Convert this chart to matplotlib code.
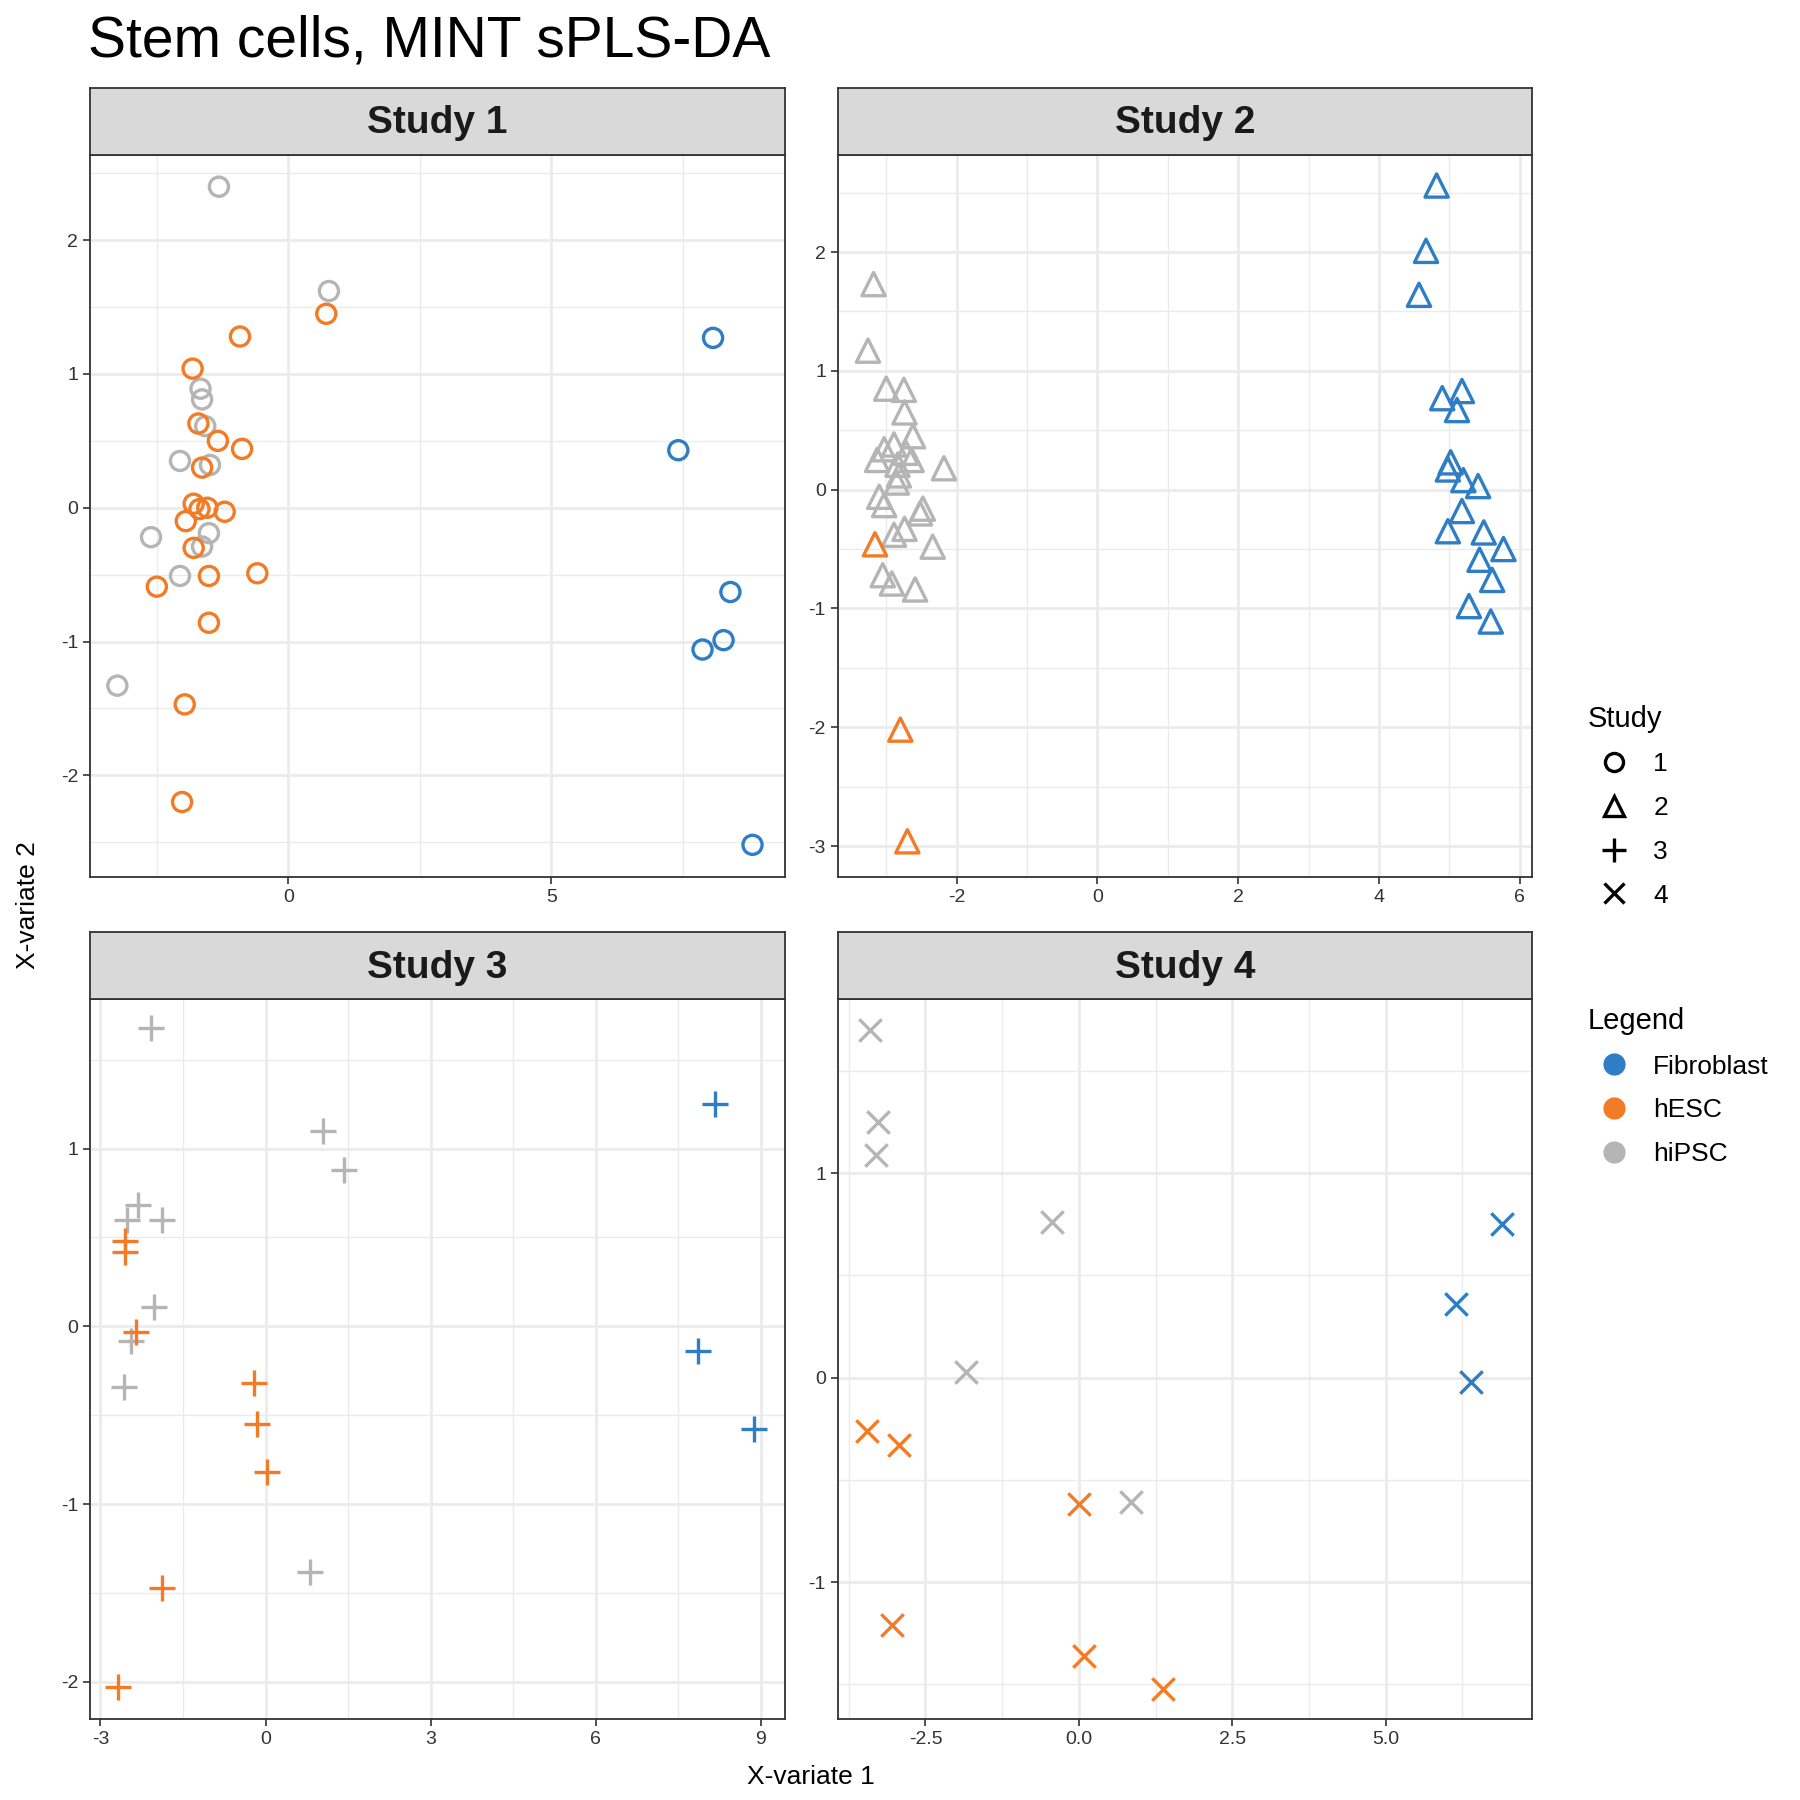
import numpy as np
import matplotlib
matplotlib.use("Agg")
import matplotlib.pyplot as plt
from matplotlib.lines import Line2D
from matplotlib.ticker import MultipleLocator

plt.rcParams['font.family'] = ['Liberation Sans', 'DejaVu Sans']
plt.rcParams['axes.unicode_minus'] = False

BLUE, ORANGE, GREY = '#2F7EC5', '#F47B25', '#B5B5B5'

# Study 1 (circles)
s1_grey_x = [-1.32, 0.77, -1.67, -1.64, -1.58, -2.06, -1.49, -2.61, -1.51, -1.64, -2.06, -3.25]
s1_grey_y = [2.40, 1.62, 0.89, 0.81, 0.61, 0.35, 0.32, -0.22, -0.19, -0.29, -0.51, -1.33]
s1_orange_x = [0.72, -0.92, -1.82, -1.71, -1.34, -0.88, -1.64, -1.80, -1.69, -1.54, -1.21, -1.95,
               -1.80, -1.51, -0.59, -2.50, -1.51, -1.97, -2.02]
s1_orange_y = [1.45, 1.28, 1.04, 0.63, 0.50, 0.44, 0.30, 0.03, -0.01, 0.00, -0.03, -0.10,
               -0.30, -0.51, -0.49, -0.59, -0.86, -1.47, -2.20]
s1_blue_x = [8.07, 7.41, 8.40, 8.27, 7.87, 8.82]
s1_blue_y = [1.27, 0.43, -0.63, -0.99, -1.06, -2.52]

# Study 2 (triangles)
s2_blue_x = [4.82, 4.67, 4.57, 5.18, 4.90, 5.11, 5.02, 4.98, 5.20, 5.41, 5.18, 4.98, 5.49, 5.77,
             5.43, 5.61, 5.28, 5.59]
s2_blue_y = [2.56, 2.01, 1.64, 0.83, 0.77, 0.67, 0.23, 0.17, 0.08, 0.03, -0.18, -0.35, -0.36,
             -0.50, -0.59, -0.76, -0.98, -1.11]
s2_grey_x = [-3.18, -3.26, -3.00, -2.75, -2.74, -2.62, -3.03, -2.89, -2.72, -3.13, -2.64, -2.84,
             -2.18, -2.82, -2.85, -3.10, -3.03, -2.48, -2.52, -2.74, -2.89, -2.34, -3.05, -2.92, -2.59]
s2_grey_y = [1.73, 1.17, 0.85, 0.84, 0.65, 0.45, 0.34, 0.38, 0.31, 0.25, 0.25, 0.21,
             0.18, 0.12, 0.06, -0.06, -0.13, -0.16, -0.20, -0.33, -0.38, -0.48, -0.72, -0.79, -0.84]
s2_orange_x = [-3.16, -2.80, -2.70]
s2_orange_y = [-0.46, -2.02, -2.96]

# Study 3 (plus)
s3_grey_x = [-2.08, 1.05, 1.43, -2.31, -2.52, -1.89, -2.03, -2.45, -2.58, 0.80]
s3_grey_y = [1.68, 1.10, 0.88, 0.68, 0.60, 0.60, 0.11, -0.08, -0.34, -1.38]
s3_orange_x = [-2.56, -2.56, -2.35, -0.21, -0.15, 0.02, -1.89, -2.68]
s3_orange_y = [0.48, 0.42, -0.03, -0.32, -0.55, -0.82, -1.47, -2.03]
s3_blue_x = [8.16, 7.86, 8.87]
s3_blue_y = [1.25, -0.14, -0.58]

# Study 4 (cross)
s4_grey_x = [-3.40, -3.27, -3.31, -0.43, -1.84, 0.85]
s4_grey_y = [1.70, 1.25, 1.09, 0.76, 0.03, -0.61]
s4_orange_x = [-3.46, -2.93, 0.00, -3.05, 0.09, 1.37]
s4_orange_y = [-0.26, -0.33, -0.62, -1.21, -1.36, -1.52]
s4_blue_x = [6.90, 6.15, 6.39]
s4_blue_y = [0.75, 0.36, -0.02]

W = 1560.0
def fx(p): return p / W
def fy(p): return 1 - p / W

fig = plt.figure(figsize=(18, 18), dpi=100)

panels = [
    dict(title='Study 1', box=(78, 680, 76, 134, 760), marker='o',
         xlim=(-3.77, 9.43), ylim=(-2.76, 2.64), xmaj=5, ymaj=1,
         data=[(s1_grey_x, s1_grey_y, GREY), (s1_orange_x, s1_orange_y, ORANGE), (s1_blue_x, s1_blue_y, BLUE)]),
    dict(title='Study 2', box=(726, 1328, 76, 134, 760), marker='^',
         xlim=(-3.69, 6.18), ylim=(-3.26, 2.82), xmaj=2, ymaj=1,
         data=[(s2_grey_x, s2_grey_y, GREY), (s2_orange_x, s2_orange_y, ORANGE), (s2_blue_x, s2_blue_y, BLUE)]),
    dict(title='Study 3', box=(78, 680, 808, 866, 1490), marker='+',
         xlim=(-3.19, 9.43), ylim=(-2.21, 1.84), xmaj=3, ymaj=1,
         data=[(s3_grey_x, s3_grey_y, GREY), (s3_orange_x, s3_orange_y, ORANGE), (s3_blue_x, s3_blue_y, BLUE)]),
    dict(title='Study 4', box=(726, 1328, 808, 866, 1490), marker='x',
         xlim=(-3.93, 7.39), ylim=(-1.67, 1.85), xmaj=2.5, ymaj=1,
         data=[(s4_grey_x, s4_grey_y, GREY), (s4_orange_x, s4_orange_y, ORANGE), (s4_blue_x, s4_blue_y, BLUE)]),
]

sizes = {'o': 190, '^': 280, '+': 330, 'x': 260}

for p in panels:
    l, r, st, sb, b = p['box']
    ax = fig.add_axes([fx(l), fy(b), (r - l) / W, (b - sb) / W])
    sax = fig.add_axes([fx(l), fy(sb), (r - l) / W, (sb - st) / W])
    sax.set_facecolor('#D9D9D9')
    sax.set_xticks([]); sax.set_yticks([])
    for sp in sax.spines.values():
        sp.set_color('#333333'); sp.set_linewidth(1.3)
    sax.text(0.5, 0.47, p['title'], ha='center', va='center', fontsize=28,
             fontweight='bold', color='#1A1A1A', transform=sax.transAxes)

    for xs, ys, c in p['data']:
        if p['marker'] in ('o', '^'):
            ax.scatter(xs, ys, s=sizes[p['marker']], marker=p['marker'], facecolors='none',
                       edgecolors=c, linewidths=2.4, zorder=3)
        else:
            ax.scatter(xs, ys, s=sizes[p['marker']], marker=p['marker'], color=c,
                       linewidths=2.4, zorder=3)
    ax.set_xlim(*p['xlim']); ax.set_ylim(*p['ylim'])
    ax.xaxis.set_major_locator(MultipleLocator(p['xmaj']))
    ax.xaxis.set_minor_locator(MultipleLocator(p['xmaj'] / 2))
    ax.yaxis.set_major_locator(MultipleLocator(p['ymaj']))
    ax.yaxis.set_minor_locator(MultipleLocator(p['ymaj'] / 2))
    ax.grid(which='major', color='#EBEBEB', linewidth=2.0, zorder=0)
    ax.grid(which='minor', color='#EBEBEB', linewidth=1.0, zorder=0)
    ax.set_axisbelow(True)
    ax.tick_params(which='major', labelsize=14, colors='#333333', length=5, width=1.2)
    ax.tick_params(which='minor', length=0)
    for sp in ax.spines.values():
        sp.set_color('#333333'); sp.set_linewidth(1.3)

fig.text(fx(76), fy(36), 'Stem cells, MINT sPLS-DA', fontsize=41, va='center', ha='left')
fig.text(fx(703), fy(1540), 'X-variate 1', fontsize=19, ha='center', va='center')
fig.text(fx(24), fy(784), 'X-variate 2', fontsize=19, rotation=90, ha='center', va='center')

# legends
study_handles = [
    Line2D([], [], marker='o', ls='none', mfc='none', mec='black', mew=2.4, ms=13),
    Line2D([], [], marker='^', ls='none', mfc='none', mec='black', mew=2.4, ms=15),
    Line2D([], [], marker='+', ls='none', color='black', mew=2.4, ms=17),
    Line2D([], [], marker='x', ls='none', color='black', mew=2.4, ms=14),
]
fig.legend(study_handles, ['1', '2', '3', '4'], title='Study',
           loc='upper left', bbox_to_anchor=(fx(1355), fy(590)), frameon=False,
           fontsize=19, title_fontsize=21, handletextpad=0.5, labelspacing=0.75,
           alignment='left')
col_handles = [Line2D([], [], marker='o', ls='none', color=c, ms=15) for c in (BLUE, ORANGE, GREY)]
fig.legend(col_handles, ['Fibroblast', 'hESC', 'hiPSC'], title='Legend',
           loc='upper left', bbox_to_anchor=(fx(1355), fy(852)), frameon=False,
           fontsize=19, title_fontsize=21, handletextpad=0.5, labelspacing=0.75,
           alignment='left')

fig.savefig('out.png', dpi=100)
